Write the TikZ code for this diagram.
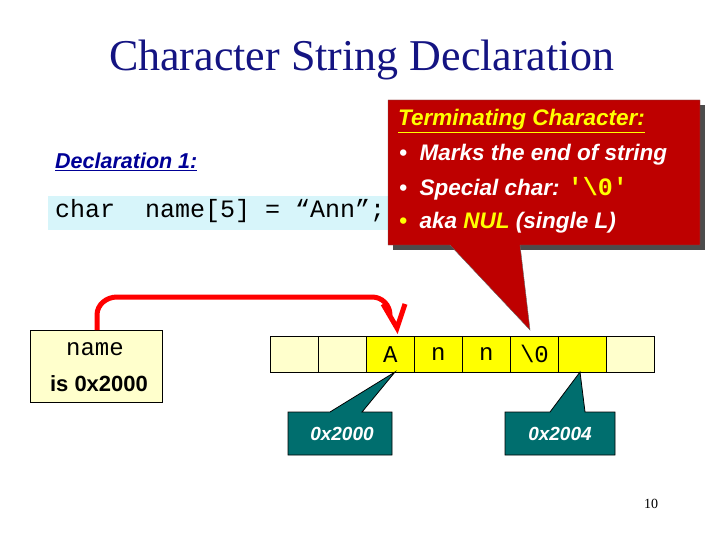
\documentclass[tikz,border=0pt]{standalone}
\usepackage{fontspec}
\setmainfont{Liberation Serif}
\newfontfamily\arial{Liberation Sans}
\newfontfamily\cour{Liberation Mono}
\definecolor{navy}{RGB}{20,20,130}
\definecolor{lyel}{RGB}{255,255,204}
\definecolor{yel}{RGB}{255,255,0}
\definecolor{redc}{RGB}{190,0,0}
\definecolor{teal2}{RGB}{0,110,110}
\definecolor{lcyan}{RGB}{215,245,250}
\definecolor{decl}{RGB}{0,0,150}
\usetikzlibrary{calc}
\tikzset{cell/.style={draw,thick,minimum width=48pt,minimum height=36pt,inner sep=0pt,font=\cour\fontsize{24}{24}\selectfont,anchor=north west},
 ctext/.style={font=\arial\bfseries\itshape\fontsize{22.5}{22}\selectfont,anchor=west,inner sep=0pt}}
\begin{document}
\begin{tikzpicture}[x=1pt,y=-1pt]
\useasboundingbox (0,0) rectangle (720,540);
\node[font=\fontsize{44}{44}\selectfont,text=navy] (title) at (362,60) {Character String Declaration};
\node[ctext,text=decl,font=\arial\bfseries\itshape\fontsize{21.5}{21}\selectfont] (d1) at (55,162) {\underline{Declaration 1:}};
\fill[lcyan] (48,196) rectangle (396,230);
\node[font=\cour\fontsize{25}{25}\selectfont,anchor=west,inner sep=0pt] (decl) at (55,211) {char\ \ name[5] = “Ann”;};
% red callout
\fill[black!70] (393,105) rectangle (705,250);
\filldraw[fill=redc,draw=black!60] (388,100) -- (700,100) -- (700,245) -- (520,245) -- (530,330) -- (450,245) -- (388,245) -- cycle;
\node[ctext,text=yel] (t0) at (398,121) {\underline{Terminating Character:}};
\node[ctext,text=white] (t1) at (399,155) {•\ \ Marks the end of string};
\node[ctext,text=white] (t2) at (399,189) {•\ \ Special char: {\upshape\cour\color{yel}\fontsize{25}{25}\selectfont'\textbackslash0'}};
\node[ctext,text=white] (t3) at (399,223) {{\color{yel}•}\ \ aka {\color{yel}NUL} (single L)};
% cells
\node[cell,fill=lyel] (c0) at (270,336) {};
\node[cell,fill=lyel] (c1) at (318,336) {};
\node[cell,fill=yel] (c2) at (366,336) {A};
\node[cell,fill=yel] (c3) at (414,336) {n};
\node[cell,fill=yel] (c4) at (462,336) {n};
\node[cell,fill=yel] (c5) at (510,336) {\textbackslash0};
\node[cell,fill=yel] (c6) at (558,336) {};
\node[cell,fill=lyel] (c7) at (606,336) {};
% name box
\node[draw,thick,fill=lyel,minimum width=132pt,minimum height=72pt,anchor=north west] (nm) at (30,330) {};
\node[font=\cour\fontsize{24}{24}\selectfont] (nmt) at (95,349) {name};
\node[font=\arial\bfseries\fontsize{22}{22}\selectfont] (nmi) at (99,384) {is 0x2000};
% red arrow
\draw[red,line width=5pt] (97,330) -- (97,315) to[out=90,in=180] (117,297) -- (372,297) to[out=0,in=90] (390,315);
\draw[red,line width=5pt,line join=miter] (383,304) -- (397,328) -- (405,304);
% teal callouts
\filldraw[fill=teal2,draw=black,thick] (288,412) -- (330,412) -- (395,372) -- (362,412) -- (392,412) -- (392,455) -- (288,455) -- cycle;
\node[font=\arial\bfseries\itshape\fontsize{19}{19}\selectfont,text=white] (a1) at (342,434) {0x2000};
\filldraw[fill=teal2,draw=black,thick] (505,412) -- (550,412) -- (580,372) -- (585,412) -- (615,412) -- (615,455) -- (505,455) -- cycle;
\node[font=\arial\bfseries\itshape\fontsize{19}{19}\selectfont,text=white] (a2) at (560,434) {0x2004};
\node[font=\fontsize{14}{14}\selectfont] (pg) at (651,504) {10};
\end{tikzpicture}
\end{document}
